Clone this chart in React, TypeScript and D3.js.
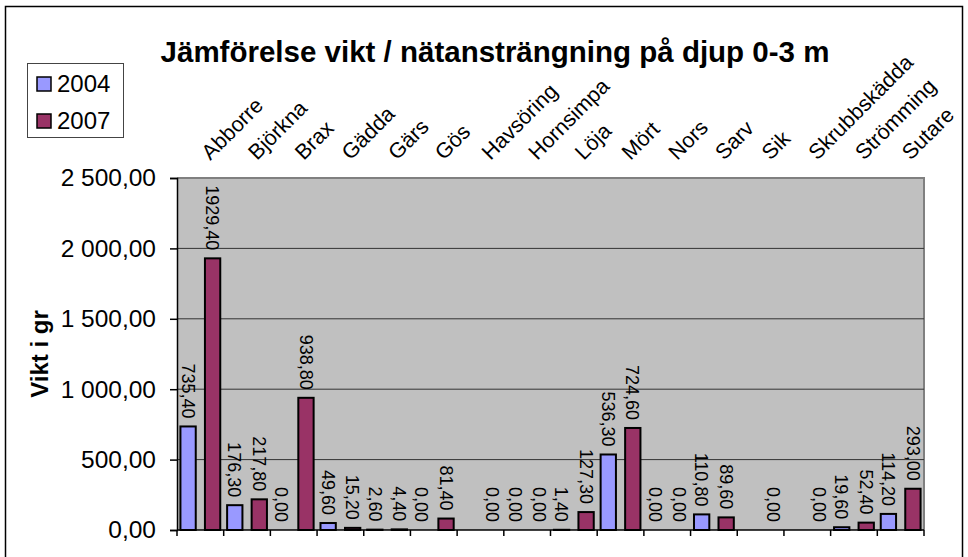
import { useRef, useEffect } from 'react';
import * as d3 from 'd3';

const categories = ['Abborre', 'Björkna', 'Brax', 'Gädda', 'Gärs', 'Gös', 'Havsöring', 'Hornsimpa', 'Löja', 'Mört', 'Nors', 'Sarv', 'Sik', 'Skrubbskädda', 'Strömming', 'Sutare'];
const seriesNames = ['2004', '2007'];
const values2004: (number | null)[] = [735.4, 176.3, 0, 49.6, 2.6, 0, null, 0, 1.4, 536.3, 0, 110.8, null, null, 19.6, 114.2];
const values2007: (number | null)[] = [1929.4, 217.8, 938.8, 15.2, 4.4, 81.4, 0, 0, 127.3, 724.6, 0, 89.6, 0, 0, 52.4, 293];
const yTicks = [0, 500, 1000, 1500, 2000, 2500];
const seriesColors = ['#9999ff', '#993366'];

const App = () => {
  const svgRef = useRef<SVGSVGElement>(null);

  useEffect(() => {
    const w = 968;
    const h = 557;
    const svg = d3.select(svgRef.current).attr('width', w).attr('height', h);
    svg.selectAll('*').remove();
    const font = '"Liberation Sans", Arial, sans-serif';

    const se = d3.formatLocale({ decimal: ',', thousands: ' ', grouping: [3], currency: ['', ' kr'] });
    const tickFmt = se.format(',.2f');
    const labelFmt = se.format('.2f');

    // outer chart frame
    svg.append('rect').attr('x', 5.5).attr('y', 6.5).attr('width', 957).attr('height', 560)
      .attr('fill', '#fff').attr('stroke', '#000').attr('stroke-width', 1.5);

    const x0 = 177, x1 = 924, yTop = 178, yBot = 530;
    const x = d3.scaleBand<string>().domain(categories).range([x0, x1]).padding(0);
    const xs = d3.scaleBand<string>().domain(seriesNames).range([0, x.bandwidth()])
      .paddingInner(0.375).paddingOuter(0.14);
    const y = d3.scaleLinear().domain([0, 2500]).range([yBot, yTop]);

    // plot area
    svg.append('rect').attr('x', x0).attr('y', yTop).attr('width', x1 - x0).attr('height', yBot - yTop)
      .attr('fill', '#c0c0c0');
    svg.append('path').attr('d', `M${x0},${yTop}H${x1}V${yBot}`).attr('fill', 'none')
      .attr('stroke', '#808080').attr('stroke-width', 2);

    // gridlines
    svg.append('g').selectAll('line').data(yTicks.slice(1, -1)).enter().append('line')
      .attr('x1', x0).attr('x2', x1).attr('y1', d => y(d)).attr('y2', d => y(d))
      .attr('stroke', '#333').attr('stroke-width', 1);

    // bars
    const series = [values2004, values2007];
    series.forEach((vals, si) => {
      const g = svg.append('g');
      const pts = categories.map((c, i) => ({ c, v: vals[i] })).filter(d => d.v !== null) as { c: string; v: number }[];
      g.selectAll('rect').data(pts.filter(d => d.v > 0)).enter().append('rect')
        .attr('x', d => (x(d.c) as number) + (xs(seriesNames[si]) as number))
        .attr('y', d => y(d.v))
        .attr('width', xs.bandwidth())
        .attr('height', d => yBot - y(d.v))
        .attr('fill', seriesColors[si]).attr('stroke', '#000').attr('stroke-width', 2);
      g.selectAll('text').data(pts).enter().append('text')
        .attr('transform', d => {
          const cx = (x(d.c) as number) + (xs(seriesNames[si]) as number) + xs.bandwidth() / 2;
          return `translate(${cx},${y(d.v) - 8}) rotate(90)`;
        })
        .attr('text-anchor', 'end').attr('dy', '0.35em')
        .attr('font-family', font).attr('font-size', 18).attr('fill', '#000')
        .text(d => labelFmt(d.v));
    });

    // y axis
    const yAxis = d3.axisLeft(y).tickValues(yTicks).tickSize(7).tickPadding(14)
      .tickFormat(d => tickFmt(d as number));
    const ya = svg.append('g').attr('transform', `translate(${x0},0)`).call(yAxis);
    ya.select('.domain').attr('stroke', '#000').attr('stroke-width', 1.5);
    ya.selectAll('.tick line').attr('stroke', '#000').attr('stroke-width', 1.5);
    ya.selectAll('.tick text').attr('font-family', font).attr('font-size', 24.5).attr('fill', '#000');

    // x axis at bottom: ticks at category boundaries, no labels
    const bounds = categories.map(c => x(c) as number).concat([x1]);
    const xa = svg.append('g');
    xa.append('line').attr('x1', x0).attr('x2', x1).attr('y1', yBot).attr('y2', yBot)
      .attr('stroke', '#000').attr('stroke-width', 1.5);
    xa.selectAll('line.t').data(bounds).enter().append('line').attr('class', 't')
      .attr('x1', d => d).attr('x2', d => d).attr('y1', yBot).attr('y2', yBot + 6)
      .attr('stroke', '#000').attr('stroke-width', 1.5);

    // category labels above the plot
    svg.append('g').selectAll('text').data(categories).enter().append('text')
      .attr('transform', d => `translate(${(x(d) as number) + x.bandwidth() / 2 + 10},161) rotate(-45)`)
      .attr('font-family', font).attr('font-size', 21.5).attr('fill', '#000')
      .text(d => d);

    // title
    svg.append('text').attr('x', 495).attr('y', 62).attr('text-anchor', 'middle')
      .attr('font-family', font).attr('font-size', 29.5).attr('font-weight', 'bold')
      .text('Jämförelse vikt / nätansträngning på djup 0-3 m');

    // y axis title
    svg.append('text').attr('transform', 'translate(48,354) rotate(-90)').attr('text-anchor', 'middle')
      .attr('font-family', font).attr('font-size', 24).attr('font-weight', 'bold')
      .text('Vikt i gr');

    // legend
    const lg = svg.append('g');
    lg.append('rect').attr('x', 27.5).attr('y', 63.5).attr('width', 96).attr('height', 74)
      .attr('fill', '#fff').attr('stroke', '#444').attr('stroke-width', 1);
    seriesNames.forEach((s, i) => {
      lg.append('rect').attr('x', 37).attr('y', 77 + i * 37).attr('width', 14).attr('height', 14)
        .attr('fill', seriesColors[i]).attr('stroke', '#000').attr('stroke-width', 1.5);
      lg.append('text').attr('x', 57).attr('y', 92 + i * 37)
        .attr('font-family', font).attr('font-size', 24).text(s);
    });
  }, []);

  return (
    <div>
      <svg ref={svgRef} style={{ position: 'absolute', left: 0, top: 0 }}></svg>
    </div>
  );
};

export default App;
